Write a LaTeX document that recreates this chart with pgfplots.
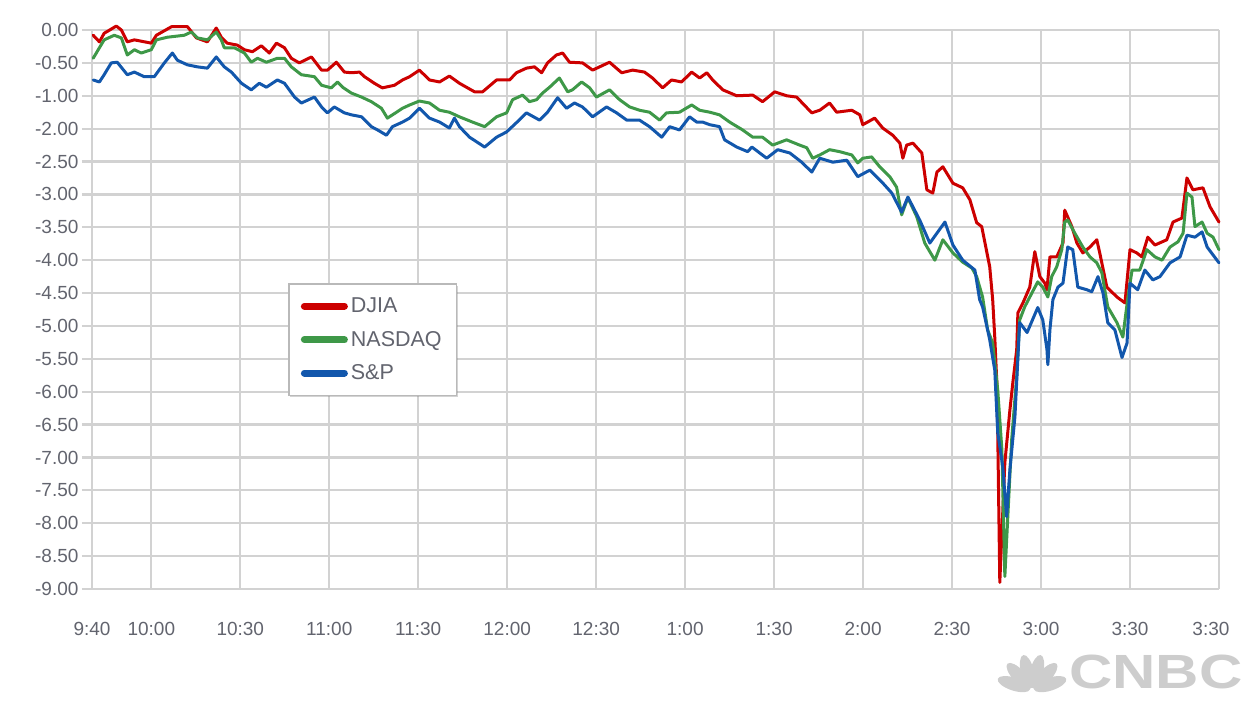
\documentclass[border=0pt]{standalone}
\usepackage{fontspec}
\setmainfont{Liberation Sans}
\usepackage{pgfplots}
\pgfplotsset{compat=1.18}
\usetikzlibrary{shadows}
\definecolor{djia}{RGB}{204,0,0}
\definecolor{nasdaq}{RGB}{62,152,72}
\definecolor{sp}{RGB}{18,87,172}
\definecolor{gridc}{RGB}{210,210,210}
\definecolor{tickc}{RGB}{98,100,110}
\definecolor{logoc}{RGB}{205,205,205}
\begin{document}
\begin{tikzpicture}
\useasboundingbox (-92pt,-113pt) rectangle (1159pt,589pt);
\begin{axis}[
  scale only axis, width=1127pt, height=559pt,
  xmin=0, xmax=380, ymin=-8.5, ymax=0,
  clip=false,
  font=\fontsize{19}{22}\selectfont,
  xtick={0,20,50,80,110,140,170,200,230,260,290,320,350,380},
  xticklabels={9:40,10:00,10:30,11:00,11:30,12:00,12:30,1:00,1:30,2:00,2:30,3:00,3:30,\hspace*{-16pt}3:30},
  ytick={-8.5,-8,...,0},
  yticklabels={-9.00,-8.50,-8.00,-7.50,-7.00,-6.50,-6.00,-5.50,-5.00,-4.50,-4.00,-3.50,-3.00,-2.50,-2.00,-1.00,-0.50,0.00},
  /pgf/number format/assume math mode=true,
  grid=major,
  major grid style={draw=gridc, line width=2.2pt},
  axis line style={draw=gridc, line width=2.2pt},
  axis x line*=bottom, axis y line*=left,
  tick align=outside, major tick length=10pt,
  ytick style={draw=gridc, line width=2.2pt},
  xtick style={draw=none},
  tick label style={text=tickc},
  xticklabel style={yshift=-20pt},
  legend style={at={(0.174,0.547)}, anchor=north west, draw=gray!55, line width=1.6pt,
    fill=white, drop shadow={opacity=0.35, shadow xshift=1.5pt, shadow yshift=-1.5pt},
    inner xsep=12pt, inner ysep=11pt, row sep=11pt, text=tickc,
    font=\fontsize{21.5}{24}\selectfont, nodes={inner sep=3pt}},
  legend cell align=left,
  legend image code/.code={\draw[#1, line width=7pt] (0pt,0pt) -- (40pt,0pt);},
  every axis plot/.append style={line width=3pt, line join=round, line cap=round},
]
\addplot[djia, mark=none] table {
x y
0.4 -0.08
2.5 -0.18
4.1 -0.05
8.2 0.06
9.9 0.00
11.9 -0.18
14.3 -0.15
20.0 -0.20
21.7 -0.08
26.8 0.05
32.2 0.05
35.2 -0.12
38.9 -0.18
41.9 0.03
43.6 -0.11
45.6 -0.20
49.0 -0.23
51.4 -0.30
54.1 -0.33
57.1 -0.24
59.8 -0.35
62.2 -0.20
64.9 -0.27
67.2 -0.43
69.9 -0.50
74.0 -0.41
77.4 -0.61
79.4 -0.61
82.4 -0.49
85.1 -0.64
87.5 -0.65
90.2 -0.64
91.9 -0.71
95.2 -0.81
97.9 -0.88
102.0 -0.84
104.7 -0.76
107.1 -0.71
110.4 -0.61
113.8 -0.76
117.2 -0.79
120.5 -0.70
123.9 -0.81
129.0 -0.94
131.7 -0.94
136.4 -0.76
140.8 -0.76
143.1 -0.65
146.5 -0.58
149.2 -0.56
151.6 -0.65
153.6 -0.50
156.6 -0.38
158.7 -0.35
161.0 -0.49
165.4 -0.50
168.8 -0.61
174.5 -0.49
178.6 -0.65
182.3 -0.61
186.3 -0.64
189.0 -0.73
192.4 -0.88
195.4 -0.76
198.8 -0.79
202.2 -0.64
204.9 -0.73
207.3 -0.65
209.3 -0.76
212.7 -0.91
217.4 -1.00
222.8 -0.99
226.1 -1.09
230.2 -0.94
234.2 -1.00
237.6 -1.02
242.7 -1.26
245.4 -1.22
248.7 -1.11
251.1 -1.25
256.2 -1.22
258.9 -1.29
259.9 -1.44
263.9 -1.34
266.6 -1.49
270.0 -1.60
272.4 -1.72
273.4 -1.95
274.7 -1.75
276.8 -1.72
279.8 -1.87
281.5 -2.43
283.5 -2.48
284.9 -2.16
286.9 -2.08
290.3 -2.33
293.6 -2.40
296.0 -2.58
298.3 -2.93
300.0 -2.99
302.7 -3.60
303.7 -4.10
304.4 -4.67
305.1 -5.36
305.4 -6.12
306.1 -8.40
307.8 -6.58
309.5 -5.78
310.5 -5.36
311.8 -4.86
312.2 -4.30
313.9 -4.15
316.2 -3.91
317.9 -3.37
319.6 -3.75
321.3 -3.85
322.0 -3.95
323.0 -3.45
325.3 -3.45
327.4 -3.24
328.0 -2.74
330.4 -2.99
332.1 -3.24
334.1 -3.39
336.5 -3.30
338.8 -3.19
339.8 -3.39
342.2 -3.91
345.6 -4.06
348.3 -4.15
350.0 -3.34
352.3 -3.39
354.0 -3.45
356.0 -3.15
358.4 -3.27
362.4 -3.19
364.5 -2.92
367.5 -2.86
369.2 -2.25
371.2 -2.43
374.6 -2.40
377.0 -2.69
380.0 -2.92
};
\addlegendentry{DJIA}
\addplot[nasdaq, mark=none] table {
x y
0.4 -0.43
2.5 -0.27
4.1 -0.15
7.5 -0.08
9.9 -0.12
11.9 -0.38
14.3 -0.30
16.6 -0.35
20.0 -0.30
21.7 -0.15
25.4 -0.11
31.1 -0.08
33.5 -0.03
35.5 -0.12
38.9 -0.15
41.9 -0.03
43.6 -0.15
44.6 -0.27
48.0 -0.27
51.4 -0.35
53.7 -0.49
55.8 -0.43
58.8 -0.49
62.5 -0.43
64.9 -0.43
67.2 -0.56
70.6 -0.68
75.0 -0.71
77.4 -0.84
80.7 -0.88
82.8 -0.79
84.5 -0.87
87.5 -0.96
90.9 -1.02
94.2 -1.09
97.6 -1.19
99.6 -1.34
102.7 -1.25
104.7 -1.19
107.1 -1.14
110.4 -1.08
113.8 -1.11
117.2 -1.22
120.5 -1.25
123.9 -1.32
128.3 -1.40
132.4 -1.47
136.4 -1.32
139.8 -1.26
141.8 -1.06
145.2 -0.99
147.5 -1.09
149.9 -1.06
151.9 -0.96
154.3 -0.87
157.6 -0.73
160.4 -0.94
162.0 -0.91
165.1 -0.79
167.8 -0.88
170.1 -1.02
174.5 -0.91
177.9 -1.06
181.3 -1.17
184.6 -1.22
188.0 -1.25
191.4 -1.37
193.7 -1.26
198.1 -1.25
202.2 -1.14
204.9 -1.22
208.3 -1.25
211.6 -1.29
215.0 -1.40
219.4 -1.52
222.8 -1.63
226.1 -1.63
229.5 -1.75
234.2 -1.67
238.6 -1.75
241.0 -1.79
243.0 -1.95
245.4 -1.90
248.7 -1.82
252.1 -1.85
256.2 -1.90
258.2 -2.02
259.9 -1.95
262.9 -1.93
265.6 -2.08
269.0 -2.23
271.3 -2.39
273.0 -2.81
275.1 -2.55
278.1 -2.84
280.8 -3.24
284.2 -3.50
286.9 -3.19
290.3 -3.39
293.6 -3.53
296.7 -3.62
298.3 -3.75
300.3 -4.06
302.0 -4.56
303.7 -4.76
305.4 -5.47
306.8 -6.38
307.8 -8.31
308.8 -7.40
310.1 -6.23
311.8 -5.27
312.8 -4.41
314.5 -4.21
316.9 -4.00
318.9 -3.83
320.6 -3.91
322.3 -4.06
323.6 -3.75
325.3 -3.60
327.0 -3.34
328.0 -2.92
329.0 -2.89
331.4 -3.09
334.1 -3.30
336.5 -3.45
338.8 -3.54
340.5 -3.69
342.5 -4.21
345.6 -4.45
347.6 -4.67
349.3 -4.06
350.7 -3.65
353.3 -3.65
355.7 -3.34
358.4 -3.45
360.8 -3.50
363.5 -3.30
366.2 -3.22
367.9 -3.09
369.2 -2.48
370.9 -2.54
371.9 -2.99
374.3 -2.92
376.0 -3.09
378.0 -3.15
380.0 -3.34
};
\addlegendentry{NASDAQ}
\addplot[sp, mark=none] table {
x y
0.4 -0.76
2.5 -0.79
4.1 -0.68
6.5 -0.50
8.5 -0.49
11.9 -0.68
14.3 -0.64
17.6 -0.71
21.0 -0.71
24.4 -0.50
27.1 -0.35
28.8 -0.46
32.2 -0.53
35.5 -0.56
38.9 -0.58
41.9 -0.41
44.6 -0.56
47.0 -0.64
50.4 -0.81
53.7 -0.91
56.4 -0.81
58.8 -0.87
62.5 -0.76
64.9 -0.81
68.3 -1.02
70.6 -1.11
75.0 -1.02
77.4 -1.17
79.4 -1.26
81.7 -1.17
85.1 -1.26
87.5 -1.29
90.9 -1.32
94.2 -1.47
96.3 -1.52
99.3 -1.60
101.3 -1.47
104.7 -1.40
107.1 -1.34
110.4 -1.19
113.8 -1.34
117.2 -1.40
120.5 -1.49
122.2 -1.34
123.9 -1.47
127.3 -1.63
132.4 -1.78
136.4 -1.63
139.8 -1.55
143.1 -1.41
146.5 -1.26
150.9 -1.37
153.6 -1.25
157.0 -1.03
160.0 -1.19
162.7 -1.11
165.4 -1.17
168.8 -1.32
173.5 -1.17
176.9 -1.26
180.3 -1.37
184.6 -1.37
188.0 -1.47
192.1 -1.63
194.8 -1.47
198.1 -1.52
201.5 -1.32
203.9 -1.40
205.9 -1.40
208.3 -1.44
211.6 -1.47
213.3 -1.67
217.4 -1.78
221.1 -1.85
222.5 -1.78
227.5 -1.95
231.2 -1.82
235.3 -1.87
239.3 -2.01
242.7 -2.16
245.4 -1.95
249.8 -2.01
254.5 -1.98
258.2 -2.23
262.3 -2.13
266.3 -2.31
269.7 -2.48
273.0 -2.77
275.1 -2.54
279.1 -2.89
282.5 -3.24
287.6 -2.92
290.3 -3.27
293.6 -3.50
297.7 -3.65
299.3 -4.10
300.3 -4.21
302.7 -4.71
304.4 -5.17
305.4 -6.12
307.1 -6.64
308.4 -7.40
309.5 -6.69
311.2 -5.88
312.8 -4.45
315.3 -4.60
318.9 -4.22
320.6 -4.41
322.0 -4.86
322.3 -5.09
323.0 -4.56
324.0 -4.10
325.7 -3.91
327.4 -3.85
329.0 -3.30
330.7 -3.34
332.4 -3.91
335.5 -3.95
337.1 -3.98
339.2 -3.75
340.9 -4.00
342.5 -4.45
344.9 -4.56
347.3 -4.98
349.0 -4.76
350.0 -3.85
352.6 -3.95
355.0 -3.65
357.7 -3.80
360.1 -3.75
363.5 -3.54
366.9 -3.45
369.2 -3.12
371.9 -3.15
374.3 -3.07
376.0 -3.30
380.0 -3.54
};
\addlegendentry{S\&P}
\end{axis}
% CNBC watermark
\foreach \a in {-72,-43,-14,14,43,72}
  \fill[logoc, rotate around={\a:(940pt,-101pt)}] (940pt,-82pt) ellipse (6.5pt and 17pt);
\node[anchor=west, text=logoc, inner sep=0pt] at (977pt,-83pt)
  {\scalebox{1.25}[1]{\fontsize{48}{50}\selectfont\bfseries CNBC}};
\end{tikzpicture}
\end{document}
